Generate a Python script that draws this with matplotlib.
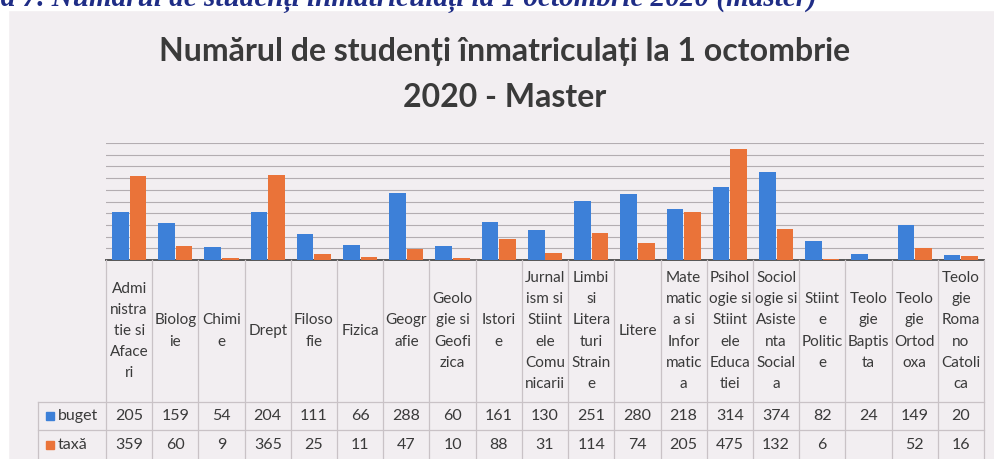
import numpy as np
import matplotlib.pyplot as plt
from matplotlib.patches import Rectangle
from matplotlib.lines import Line2D

categories = ["Admi\nnistra\ntie si\nAface\nri", "Biolog\nie", "Chimi\ne", "Drept",
              "Filoso\nfie", "Fizica", "Geogr\nafie", "Geolo\ngie si\nGeofi\nzica",
              "Istori\ne", "Jurnal\nism si\nStiint\nele\nComu\nnicarii",
              "Limbi\nsi\nLitera\nturi\nStrain\ne", "Litere",
              "Mate\nmatic\na si\nInfor\nmatic\na", "Psihol\nogie si\nStiint\nele\nEduca\ntiei",
              "Sociol\nogie si\nAsiste\nnta\nSocial\na", "Stiint\ne\nPolitic\ne",
              "Teolo\ngie\nBaptis\nta", "Teolo\ngie\nOrtod\noxa",
              "Teolo\ngie\nRoma\nno\nCatoli\nca"]
buget = [205, 159, 54, 204, 111, 66, 288, 60, 161, 130, 251, 280, 218, 314, 374, 82, 24, 149, 20]
taxa = [359, 60, 9, 365, 25, 11, 47, 10, 88, 31, 114, 74, 205, 475, 132, 6, None, 52, 16]

blue = '#3d80d8'
orange = '#ea7339'
txt = '#3a3a3a'
border = '#c9c2c6'

W, H = 994, 459
def fx(x):
    return x / W
def fy(y):
    return 1 - y / H

fig = plt.figure(figsize=(W / 100, H / 100), dpi=100, facecolor='#f2eef1')

# white page strip above/left of the scanned chart
fig.patches.append(Rectangle((0, fy(10)), 1, 10 / H, transform=fig.transFigure, color='white', zorder=0))
fig.patches.append(Rectangle((0, 0), fx(8), 1, transform=fig.transFigure, color='white', zorder=0))

# caption of the page, cut by the top edge as in the scan
fig.text(fx(817), fy(6), "Figura 7. Numărul de studenți înmatriculați la 1 octombrie 2020 (master)",
         ha='right', va='baseline', fontsize=21, family='Liberation Serif',
         weight='bold', style='italic', color='#1f2d86')

fig.text(fx(505), fy(52), "Numărul de studenți înmatriculați la 1 octombrie",
         ha='center', va='center', fontsize=23, family='Lato', weight='bold', color=txt)
fig.text(fx(505), fy(97), "2020 - Master",
         ha='center', va='center', fontsize=23, family='Lato', weight='bold', color=txt)

left, right, base, top = 106, 984, 260, 143
ax = fig.add_axes([fx(left), fy(base), (right - left) / W, (base - top) / H])
ax.set_facecolor('none')
n = len(categories)
x = np.arange(n)
tx = np.array([np.nan if v is None else v for v in taxa], dtype=float)
ax.bar(x - 0.19, buget, 0.36, color=blue, zorder=3)
ax.bar(x + 0.19, tx, 0.36, color=orange, zorder=3)
ax.set_xlim(-0.5, n - 0.5)
ax.set_ylim(0, 500)
ax.set_yticks(range(0, 501, 50))
ax.grid(axis='y', color='#b3adb1', lw=0.8, zorder=0)
ax.tick_params(left=False, bottom=False, labelleft=False, labelbottom=False)
for s in ['top', 'right', 'left']:
    ax.spines[s].set_visible(False)
ax.spines['bottom'].set_color('#555555')
ax.spines['bottom'].set_linewidth(1.4)

# data table below the axis
colw = (right - left) / n
hdr_bot, row_mid, bot = 402, 430, 462

def hline(x0, x1, y):
    fig.lines.append(Line2D([fx(x0), fx(x1)], [fy(y), fy(y)], transform=fig.transFigure,
                            color=border, lw=0.9))
def vline(xp, y0, y1):
    fig.lines.append(Line2D([fx(xp), fx(xp)], [fy(y0), fy(y1)], transform=fig.transFigure,
                            color=border, lw=0.9))

for i in range(n + 1):
    vline(left + i * colw, base, bot)
vline(38, hdr_bot, bot)
hline(38, right, hdr_bot)
hline(38, right, row_mid)

for i, lab in enumerate(categories):
    cx = left + (i + 0.5) * colw
    fig.text(fx(cx), fy(331), lab, ha='center', va='center', fontsize=11,
             family='Lato', color=txt, linespacing=1.65)
    fig.text(fx(cx), fy(416), str(buget[i]), ha='center', va='center', fontsize=11.5,
             family='Lato', color=txt)
    if taxa[i] is not None:
        fig.text(fx(cx), fy(445), str(taxa[i]), ha='center', va='center', fontsize=11.5,
                 family='Lato', color=txt)

# legend keys in the table
for yc, col, name in [(416, blue, 'buget'), (445, orange, 'taxă')]:
    fig.patches.append(Rectangle((fx(46), fy(yc + 4)), 8 / W, 8 / H, transform=fig.transFigure,
                                 color=col))
    fig.text(fx(58), fy(yc), name, ha='left', va='center', fontsize=11.5, family='Lato', color=txt)

fig.savefig('out.png', dpi=100, facecolor=fig.get_facecolor())
